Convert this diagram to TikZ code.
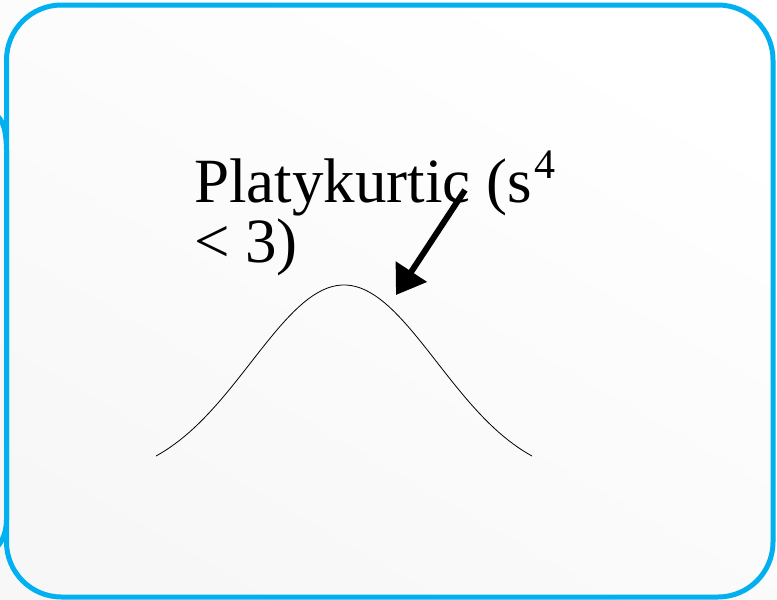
\documentclass[tikz,border=0pt]{standalone}
\usepackage{fontspec}
\setmainfont{Liberation Serif}
\usepackage{xcolor}
\usetikzlibrary{arrows.meta}
\definecolor{slideblue}{HTML}{00B0F0}
\newcommand{\supnum}[1]{\kern3pt\raisebox{0.37em}{\fontsize{42}{42}\selectfont #1}}

\begin{document}
\begin{tikzpicture}[x=1pt, y=-1pt]
        % background
        \shade[bottom color=gray!6, top color=white, shading angle=-30] (0,0) rectangle (777,600);
        \useasboundingbox (0,0) rectangle (777,600);

        % neighbouring box, cut off at the left
        \draw[slideblue, line width=5pt] (-20,108) .. controls (2,112) and (6,125) .. (6.5,150) -- (6.5,520)
              .. controls (6,535) and (2,548) .. (-20,560);

        % frame
        \draw[slideblue, line width=5pt, rounded corners=55pt] (6.5,5) rectangle (773,597);

        % label (base = last line)
        \node[anchor=base west, inner sep=0pt, align=left, font=\fontsize{63}{60}\selectfont] (label) at (194,262)
              {Platykurtic (s\supnum{4}\\< 3)};

        % curve
        \draw[black, line width=0.8pt, domain=156:532, samples=80]
              plot (\x, {481.5-196.5*exp(-0.5*((\x-344)/93)^2)});

        % arrow
        \coordinate (tail) at (465,190);
        \coordinate (tip) at (396,295);
        \draw[line width=6pt, -{Triangle[length=28pt, width=36pt]}] (tail) -- (tip);
    \end{tikzpicture}
\end{document}
